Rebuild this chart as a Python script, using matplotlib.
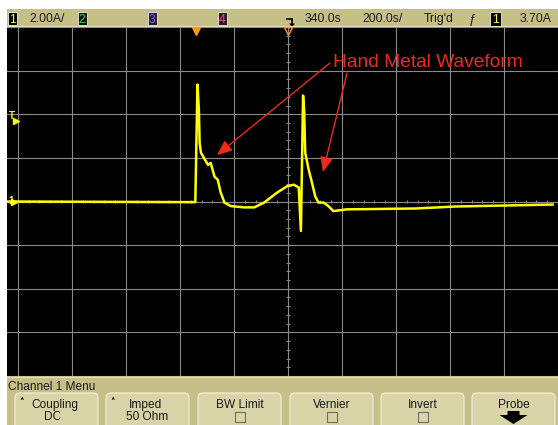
import matplotlib
matplotlib.use("Agg")
import matplotlib.pyplot as plt
import matplotlib.transforms as mtransforms
from matplotlib.patches import Rectangle, FancyBboxPatch, Polygon, FancyArrowPatch, ArrowStyle

# ---------------- data ----------------
time_us = [-705, -3, 5, 10, 13, 18, 44, 54, 68, 80, 91, 105, 128, 178, 215, 252,
           282, 300, 337, 362, 380, 388, 396, 400, 404, 417, 429, 441, 453, 472,
           490, 508, 557, 814, 960, 1320]
current_A = [0.0, -0.03, 5.36, 4.27, 2.68, 2.23, 1.68, 1.77, 1.14, 1.0, 0.41, -0.05,
             -0.21, -0.27, -0.27, -0.05, 0.24, 0.41, 0.70, 0.77, 0.64, -1.35, 4.86,
             4.18, 2.23, 1.45, 0.86, 0.24, -0.05, -0.05, -0.21, -0.44, -0.36, -0.32,
             -0.23, -0.14]

amps_per_div = 2.0
time_per_div = 200.0
delay_us = 340.0
trig_level = 3.70

ch_scale_label = "2.00A/"
delay_label = "340.0s"
timebase_label = "200.0s/"
trig_status = "Trig'd"
trig_label = "3.70A"
menu_title = "Channel 1 Menu"
button_top = ["Coupling", "Imped", "BW Limit", "Vernier", "Invert", "Probe"]
button_bottom = ["DC", "50 Ohm", "", "", "", ""]
button_kind = ["menu", "menu", "check", "check", "check", "arrow"]
annotation_text = "Hand Metal Waveform"

# ---------------- style ----------------
W, H = 558, 425
TAN = "#C7BF88"
BTN = "#D9D4A8"
GRID = "#8A8A8A"
YEL = "#FFFF00"
RED = "#EE2A1A"
ORANGE = "#FF9A00"
FONT = ["Liberation Sans", "DejaVu Sans"]
plt.rcParams["font.family"] = FONT

fig = plt.figure(figsize=(W / 100, H / 100), dpi=100)
fig.patch.set_facecolor("white")

# background (pixel coordinates)
bg = fig.add_axes([0, 0, 1, 1])
bg.set_xlim(0, W)
bg.set_ylim(H, 0)
bg.axis("off")

# top bar
bg.add_patch(Rectangle((7, 9), W - 7, 18, facecolor=TAN, edgecolor="none"))
bg.plot([7, W], [26.3, 26.3], color="#E4E0BC", lw=0.8)
# bottom bar
bg.add_patch(Rectangle((7, 376), W - 7, H - 376, facecolor=TAN, edgecolor="none"))
bg.plot([7, W], [376.6, 376.6], color="#E4E0BC", lw=0.8)

txt_kw = dict(fontsize=8.8, color="#1A1A1A", va="baseline")

# channel boxes
def chan_box(x, label, color, face):
    bg.add_patch(Rectangle((x, 11.5), 8.5, 13.5, facecolor=face,
                           edgecolor="#D8D8D8", lw=0.7))
    bg.text(x + 4.25, 22.5, label, color=color, fontsize=8.8, ha="center",
            va="baseline")

chan_box(8, "1", "#FFFF30", "#000000")
chan_box(78, "2", "#30E030", "#101010")
chan_box(148, "3", "#A050FF", "#202020")
chan_box(218, "4", "#FF3C8C", "#202020")
bg.text(47, 22, ch_scale_label, ha="center", **txt_kw)
bg.text(323, 22, delay_label, ha="center", **txt_kw)
bg.text(383, 22, timebase_label, ha="center", **txt_kw)
bg.text(439, 22, trig_status, ha="center", **txt_kw)
bg.text(472, 22.5, "ƒ", ha="center", fontsize=9.5, color="#1A1A1A", va="baseline")
bg.add_patch(Rectangle((490, 11.5), 11, 14, facecolor="black",
                       edgecolor="#D8D8D8", lw=0.7))
bg.text(495.5, 22.5, "1", color="#FFFF30", fontsize=8.8, ha="center", va="baseline")
bg.text(536, 22, trig_label, ha="center", **txt_kw)
# time reference symbol
bg.plot([286.5, 292], [19, 19], color="black", lw=1.2)
bg.plot([292, 292], [19, 24], color="black", lw=1.2)
bg.add_patch(Polygon([(289, 23.5), (295, 23.5), (292, 27)], closed=True,
                     facecolor="black", edgecolor="none"))

# menu
bg.text(8, 389.5, menu_title, fontsize=8.6, color="#1A1A1A", va="baseline")
lefts = [15, 106, 198, 290, 381, 472]
bw = 83
for i, x0 in enumerate(lefts):
    bg.add_patch(FancyBboxPatch((x0, 393), bw, 45,
                                boxstyle="round,pad=0,rounding_size=5",
                                facecolor=BTN, edgecolor="#F0EDD4", lw=0.9))
    cx = x0 + bw / 2
    kind = button_kind[i]
    if kind == "menu":
        bg.text(cx - 2, 408, button_top[i], ha="center", fontsize=8.6,
                color="#1A1A1A", va="baseline")
        bg.text(cx - 4 if i == 0 else cx, 420, button_bottom[i], ha="center",
                fontsize=8.6, color="#1A1A1A", va="baseline")
        bg.add_patch(Polygon([(x0 + 5.5, 399.5), (x0 + 9, 399.5), (x0 + 7.25, 396.8)],
                             closed=True, facecolor="black", edgecolor="none"))
    elif kind == "check":
        bg.text(cx, 408, button_top[i], ha="center", fontsize=8.6,
                color="#1A1A1A", va="baseline")
        bg.add_patch(Rectangle((cx - 5, 412), 10, 10, facecolor=BTN,
                               edgecolor="#6E6C5A", lw=0.8))
    else:
        bg.text(cx, 408, button_top[i], ha="center", fontsize=8.6,
                color="#1A1A1A", va="baseline")
        bg.add_patch(Polygon([(cx - 6, 411), (cx + 6, 411), (cx + 6, 415),
                              (cx + 14, 415), (cx, 424), (cx - 14, 415),
                              (cx - 6, 415)], closed=True,
                             facecolor="black", edgecolor="none"))

# ---------------- scope screen ----------------
sx0, sx1, sy0, sy1 = 7, W, 27, 376
ax = fig.add_axes([sx0 / W, (H - sy1) / H, (sx1 - sx0) / W, (sy1 - sy0) / H])
ax.set_facecolor("black")
px_per_div = 54.56
py_per_div = 44.0
center_px, zero_py = 290.8, 202.0

def px_to_t(px):
    return delay_us + (px - center_px) / px_per_div * time_per_div

def py_to_a(py):
    return (zero_py - py) / py_per_div * amps_per_div

ax.set_xlim(px_to_t(sx0), px_to_t(sx1))
ax.set_ylim(py_to_a(sy1), py_to_a(sy0))
for s in ax.spines.values():
    s.set_visible(False)
ax.set_xticks([delay_us + k * time_per_div for k in range(-5, 6)])
ax.set_yticks([k * amps_per_div for k in range(-4, 5)])
ax.tick_params(length=0, labelbottom=False, labelleft=False)
ax.grid(True, color=GRID, lw=0.8)
ax.set_axisbelow(True)

# center minor ticks
tx = [delay_us - 5 * time_per_div + k * time_per_div / 5 for k in range(51)]
ax.vlines(tx, -0.09, 0.09, color=GRID, lw=0.8)
ty = [-4 * amps_per_div + k * amps_per_div / 5 for k in range(41)]
ax.hlines(ty, delay_us - 7.5, delay_us + 7.5, color=GRID, lw=0.8)

# waveform
ax.plot(time_us, current_A, color=YEL, lw=1.8, solid_joinstyle="round", zorder=5)

# markers
blend_y = mtransforms.blended_transform_factory(ax.transAxes, ax.transData)
blend_x = mtransforms.blended_transform_factory(ax.transData, ax.transAxes)
ax.text(0.003, trig_level, "T", transform=blend_y, color=YEL, fontsize=7,
        fontweight="bold", va="bottom", ha="left")
ax.plot([0.016], [trig_level], marker=">", color=YEL, ms=4, transform=blend_y,
        clip_on=False)
ax.text(0.003, 0, "1", transform=blend_y, color=YEL, fontsize=7,
        fontweight="bold", va="center", ha="left")
ax.plot([0.0135], [0], marker=">", color=YEL, ms=4, transform=blend_y)
ax.plot([0], [0.988], marker="v", color=ORANGE, ms=6, transform=blend_x,
        clip_on=False)
ax.plot([delay_us], [0.988], marker="v", mfc="none", mec=ORANGE, mew=1.0, ms=6,
        transform=blend_x, clip_on=False)

# ---------------- annotation overlay ----------------
ov = fig.add_axes([0, 0, 1, 1], zorder=10)
ov.set_xlim(0, W)
ov.set_ylim(H, 0)
ov.axis("off")
ov.patch.set_alpha(0)
ov.text(333, 66.7, annotation_text, color=RED, fontsize=13.8, va="baseline")
style = ArrowStyle("-|>", head_length=0.75, head_width=0.32)
for (x0, y0), (x1, y1) in [((330, 63), (217, 155)), ((347, 73), (323, 172))]:
    ov.add_patch(FancyArrowPatch((x0, y0), (x1, y1), arrowstyle=style,
                                 mutation_scale=12, color=RED, lw=1.0,
                                 shrinkA=0, shrinkB=0))

fig.savefig("out.png", dpi=100, facecolor=fig.get_facecolor())
